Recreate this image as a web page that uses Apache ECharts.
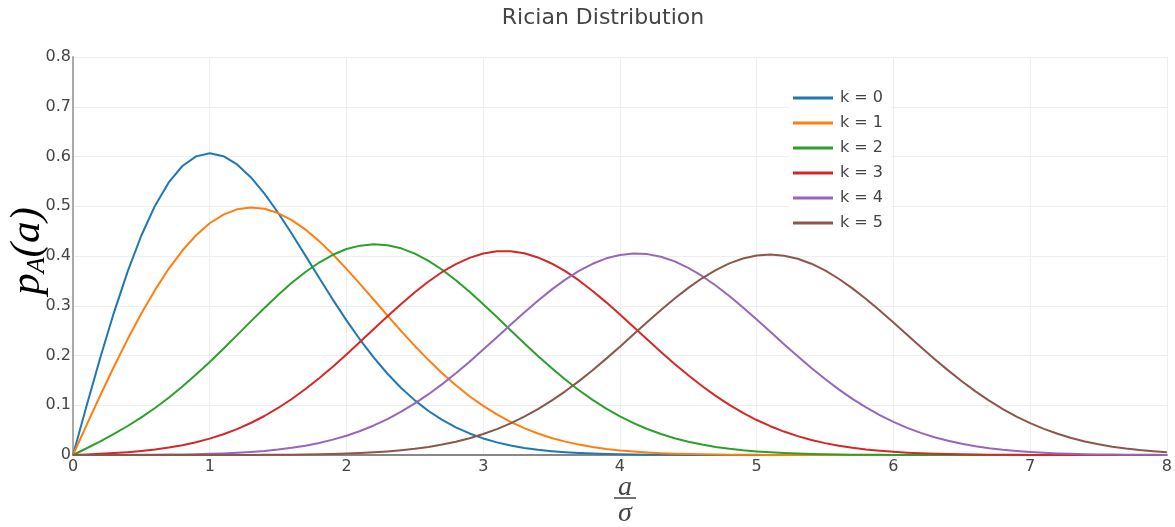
<!DOCTYPE html>
<html>
<head>
<meta charset="utf-8">
<script src="https://cdn.jsdelivr.net/npm/echarts@6/dist/echarts.min.js"></script>
<style>html,body{margin:0;padding:0;background:#fff}#c{width:1175px;height:527px}</style>
</head>
<body>
<div id="c"></div>
<script>
// x positions (a / sigma)
var xValues = [0,0.1,0.2,0.3,0.4,0.5,0.6,0.7,0.8,0.9,1.0,1.1,1.2,1.3,1.4,1.5,1.6,1.7,1.8,1.9,2.0,2.1,2.2,2.3,2.4,2.5,2.6,2.7,2.8,2.9,3.0,3.1,3.2,3.3,3.4,3.5,3.6,3.7,3.8,3.9,4.0,4.1,4.2,4.3,4.4,4.5,4.6,4.7,4.8,4.9,5.0,5.1,5.2,5.3,5.4,5.5,5.6,5.7,5.8,5.9,6.0,6.1,6.2,6.3,6.4,6.5,6.6,6.7,6.8,6.9,7.0,7.1,7.2,7.3,7.4,7.5,7.6,7.7,7.8,7.9,8.0];
var seriesNames = ['k = 0','k = 1','k = 2','k = 3','k = 4','k = 5'];
var k0 = [0,0.0995,0.1960,0.2868,0.3692,0.4412,0.5012,0.5479,0.5809,0.6003,0.6065,0.6007,0.5841,0.5585,0.5254,0.4870,0.4448,0.4007,0.3562,0.3124,0.2707,0.2316,0.1956,0.1633,0.1347,0.1098,0.0885,0.0705,0.0556,0.0433,0.0333,0.0254,0.0191,0.0142,0.0105,0.0077,0.0055,0.0039,0.0028,0.0019,0.0013,0.0009,0.0006,0.0004,0.0003,0.0002,0.0001,0.0001,0,0,0,0,0,0,0,0,0,0,0,0,0,0,0,0,0,0,0,0,0,0,0,0,0,0,0,0,0,0,0,0,0];
var k1 = [0,0.0605,0.1201,0.1779,0.2330,0.2846,0.3319,0.3743,0.4110,0.4417,0.4658,0.4832,0.4938,0.4976,0.4951,0.4863,0.4722,0.4531,0.4299,0.4034,0.3742,0.3436,0.3120,0.2803,0.2491,0.2192,0.1908,0.1643,0.1401,0.1181,0.0987,0.0816,0.0667,0.0539,0.0432,0.0343,0.0269,0.0209,0.0160,0.0122,0.0092,0.0069,0.0051,0.0037,0.0027,0.0019,0.0014,0.0010,0.0007,0.0005,0.0003,0.0002,0.0001,0.0001,0,0,0,0,0,0,0,0,0,0,0,0,0,0,0,0,0,0,0,0,0,0,0,0,0,0,0];
var k2 = [0,0.0136,0.0276,0.0424,0.0583,0.0756,0.0945,0.1152,0.1376,0.1617,0.1871,0.2137,0.2410,0.2686,0.2956,0.3217,0.3461,0.3679,0.3869,0.4025,0.4140,0.4208,0.4237,0.4218,0.4154,0.4048,0.3903,0.3723,0.3513,0.3281,0.3032,0.2773,0.2509,0.2247,0.1991,0.1748,0.1516,0.1302,0.1108,0.0932,0.0777,0.0640,0.0522,0.0422,0.0337,0.0267,0.0209,0.0162,0.0124,0.0094,0.0071,0.0053,0.0039,0.0028,0.0020,0.0015,0.0010,0.0007,0.0005,0.0003,0.0002,0.0002,0.0001,0.0001,0,0,0,0,0,0,0,0,0,0,0,0,0,0,0,0,0];
var k3 = [0,0.0011,0.0024,0.0039,0.0057,0.0081,0.0111,0.0149,0.0197,0.0256,0.0329,0.0416,0.0521,0.0643,0.0784,0.0945,0.1126,0.1326,0.1543,0.1776,0.2021,0.2275,0.2532,0.2788,0.3037,0.3272,0.3488,0.3679,0.3838,0.3963,0.4049,0.4094,0.4095,0.4054,0.3971,0.3850,0.3695,0.3509,0.3298,0.3068,0.2825,0.2574,0.2322,0.2072,0.1831,0.1602,0.1386,0.1188,0.1008,0.0846,0.0703,0.0579,0.0471,0.0380,0.0303,0.0239,0.0187,0.0145,0.0111,0.0084,0.0063,0.0047,0.0035,0.0025,0.0018,0.0013,0.0009,0.0006,0.0004,0.0003,0.0002,0.0001,0.0001,0.0001,0,0,0,0,0,0,0];
var k4 = [0,0,0.0001,0.0001,0.0002,0.0003,0.0005,0.0008,0.0011,0.0016,0.0023,0.0032,0.0045,0.0061,0.0082,0.0110,0.0145,0.0188,0.0243,0.0309,0.0388,0.0483,0.0594,0.0723,0.0871,0.1038,0.1222,0.1425,0.1644,0.1876,0.2119,0.2367,0.2618,0.2864,0.3102,0.3324,0.3526,0.3700,0.3844,0.3953,0.4022,0.4051,0.4038,0.3984,0.3891,0.3761,0.3599,0.3408,0.3195,0.2964,0.2723,0.2476,0.2228,0.1985,0.1750,0.1528,0.1320,0.1129,0.0956,0.0801,0.0665,0.0546,0.0444,0.0357,0.0285,0.0225,0.0175,0.0136,0.0104,0.0079,0.0059,0.0044,0.0032,0.0023,0.0017,0.0012,0.0008,0.0006,0.0004,0.0003,0.0002];
var k5 = [0,0,0,0,0,0,0,0,0,0,0.0001,0.0001,0.0001,0.0002,0.0003,0.0005,0.0007,0.0010,0.0015,0.0020,0.0028,0.0039,0.0053,0.0071,0.0095,0.0125,0.0163,0.0210,0.0268,0.0338,0.0422,0.0521,0.0637,0.0770,0.0922,0.1092,0.1280,0.1485,0.1704,0.1937,0.2178,0.2425,0.2671,0.2913,0.3144,0.3359,0.3552,0.3718,0.3852,0.3950,0.4010,0.4029,0.4007,0.3946,0.3845,0.3710,0.3543,0.3349,0.3134,0.2903,0.2662,0.2416,0.2171,0.1931,0.1701,0.1483,0.1279,0.1092,0.0924,0.0773,0.0641,0.0526,0.0427,0.0343,0.0273,0.0215,0.0168,0.0130,0.0099,0.0075,0.0056];
var allY = [k0,k1,k2,k3,k4,k5];
var colors = ['#1f77b4','#ff7f0e','#2ca02c','#d62728','#9467bd','#8c564b'];

var chart = echarts.init(document.getElementById('c'), null, {renderer:'canvas'});
var series = allY.map(function(ys, i){
  return {
    name: seriesNames[i], type: 'line', symbol: 'none', showSymbol: false, smooth: false,
    lineStyle: {width: 2, color: colors[i], join: 'round'}, itemStyle: {color: colors[i]},
    data: xValues.map(function(x, j){ return [x, ys[j]]; }),
    z: 3
  };
});
var FONT = 'DejaVu Sans';
var MATH = 'Liberation Serif';
chart.setOption({
  animation: false,
  backgroundColor: '#fff',
  title: {text: 'Rician Distribution', left: 598, top: 2, textAlign: 'center',
    textStyle: {fontFamily: FONT, fontSize: 22, fontWeight: 'normal', color: '#444'}},
  grid: {left: 73, right: 7, top: 57, bottom: 72, containLabel: false},
  legend: {orient: 'vertical', left: 789, top: 86, itemWidth: 40, itemHeight: 3, itemGap: 9,
    icon: 'rect',
    backgroundColor: '#fff', padding: [4,8,4,4],
    data: seriesNames,
    textStyle: {fontFamily: FONT, fontSize: 16, color: '#444', lineHeight: 16, padding: [0,0,0,2]}},
  xAxis: {type: 'value', min: 0, max: 8, interval: 1,
    axisLine: {show: true, onZero: false, lineStyle: {color: '#888', width: 2}},
    axisTick: {show: false},
    axisLabel: {fontFamily: FONT, fontSize: 16, color: '#444', margin: 4},
    splitLine: {show: true, lineStyle: {color: '#eee', width: 1}}},
  yAxis: {type: 'value', min: 0, max: 0.8, interval: 0.1,
    axisLine: {show: true, lineStyle: {color: '#aaa', width: 2}},
    axisTick: {show: false},
    axisLabel: {fontFamily: FONT, fontSize: 16, color: '#444', margin: 2},
    splitLine: {show: true, lineStyle: {color: '#eee', width: 1}}},
  graphic: [
    {type: 'text', x: 625, y: 474, z: 10,
      style: {text: 'a', fontFamily: MATH, fontStyle: 'italic', fontSize: 28, fill: '#444', textAlign: 'center', textVerticalAlign: 'top'}},
    {type: 'line', z: 10, shape: {x1: 614, y1: 498, x2: 636, y2: 498}, style: {stroke: '#444', lineWidth: 1.5}},
    {type: 'text', x: 625, y: 500, z: 10,
      style: {text: 'σ', fontFamily: MATH, fontStyle: 'italic', fontSize: 28, fill: '#444', textAlign: 'center', textVerticalAlign: 'top'}},
    {type: 'text', x: 28, y: 251, rotation: Math.PI/2, z: 10,
      style: {text: '{p|p}{s|A}{n|(a)}', textAlign: 'center', textVerticalAlign: 'middle',
        rich: {
          p: {fontFamily: MATH, fontStyle: 'italic', fontSize: 43, color: '#444', lineHeight: 44},
          s: {fontFamily: MATH, fontStyle: 'italic', fontSize: 26, color: '#444', verticalAlign: 'bottom', lineHeight: 44, padding: [16,0,0,0]},
          n: {fontFamily: MATH, fontStyle: 'italic', fontSize: 43, color: '#444', lineHeight: 44}
        }}}
  ],
  series: series
});
</script>
</body>
</html>
